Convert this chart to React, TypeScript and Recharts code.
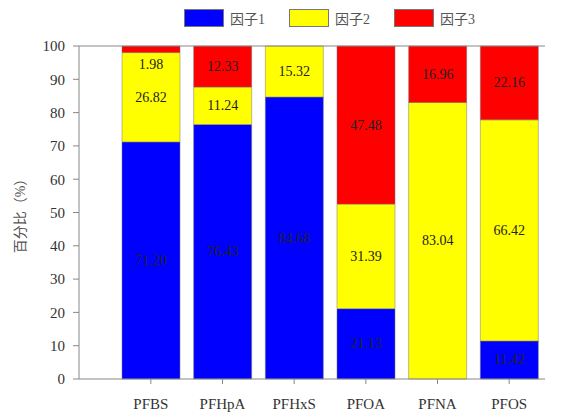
import React from 'react';
import { BarChart, Bar, XAxis, YAxis, LabelList, ReferenceLine, Label } from 'recharts';

const compounds = ['PFBS', 'PFHpA', 'PFHxS', 'PFOA', 'PFNA', 'PFOS'];
const factor1 = [71.2, 76.43, 84.68, 21.13, 0, 11.42];
const factor2 = [26.82, 11.24, 15.32, 31.39, 83.04, 66.42];
const factor3 = [1.98, 12.33, 0, 47.48, 16.96, 22.16];
const yTicks = [0, 10, 20, 30, 40, 50, 60, 70, 80, 90, 100];

const seriesNames = ['因子1', '因子2', '因子3'];
const seriesColors = ['#0000ff', '#ffff00', '#ff0000'];

const data = compounds.map((name, i) => ({
  name,
  f1: factor1[i],
  f2: factor2[i],
  f3: factor3[i],
}));

const FONT = '"Liberation Serif", "Noto Sans CJK SC", serif';

// centred value label; a thin segment puts its label just under itself
function SegLabel(props: any) {
  const { x, y, width, height, value } = props;
  if (!value) return null;
  const ty = height < 14 ? y + height + 12 : y + height / 2;
  return (
    <text x={x + width / 2} y={ty} textAnchor="middle" dominantBaseline="central" fill="#222" fontSize={14} fontFamily={FONT}>
      {Number(value).toFixed(2)}
    </text>
  );
}

function LegendBox() {
  return (
    <div style={{ position: 'absolute', left: 184, top: 8, display: 'flex', fontFamily: FONT, fontSize: 14, color: '#555' }}>
      {seriesNames.map((n, i) => (
        <div key={n} style={{ display: 'flex', alignItems: 'center', marginRight: 24 }}>
          <div style={{ width: 38, height: 16, background: seriesColors[i], border: '1px solid #777', marginRight: 6 }} />
          <span>{n}</span>
        </div>
      ))}
    </div>
  );
}

export default function App() {
  const keys = ['f1', 'f2', 'f3'];
  return (
    <div style={{ position: 'absolute', left: 0, top: 0, width: 570, height: 416, background: '#fff' }}>
      <LegendBox />
      <BarChart width={570} height={416} data={data} margin={{ top: 46, right: 25, left: 0, bottom: 7 }} barSize={58}>
        <XAxis
          dataKey="name"
          padding={{ left: 36, right: 0 }}
          stroke="#888"
          tickSize={5}
          tickMargin={14}
          tick={{ fill: '#333', fontSize: 15, fontFamily: FONT }}
        />
        <YAxis
          domain={[0, 100]}
          ticks={yTicks}
          width={79}
          stroke="#888"
          tickSize={6}
          tickMargin={8}
          tick={{ fill: '#333', fontSize: 15, fontFamily: FONT }}
        >
          <Label value="百分比（%）" angle={-90} position="insideLeft" offset={20} style={{ fill: '#555', fontSize: 14, fontFamily: FONT, textAnchor: 'middle' }} />
        </YAxis>
        <ReferenceLine y={100} stroke="#888" />
        {keys.map((k, i) => (
          <Bar key={k} dataKey={k} name={seriesNames[i]} stackId="a" fill={seriesColors[i]} stroke="#777" strokeWidth={0.5} isAnimationActive={false}>
            <LabelList dataKey={k} content={<SegLabel />} />
          </Bar>
        ))}
      </BarChart>
    </div>
  );
}
